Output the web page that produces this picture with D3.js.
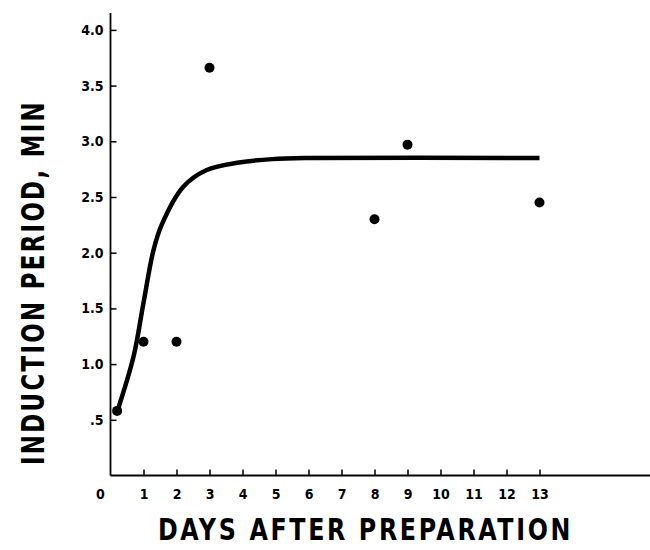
<!DOCTYPE html>
<html>
<head>
<meta charset="utf-8">
<script src="https://cdn.jsdelivr.net/npm/d3@7"></script>
<style>
  body { margin: 0; background: #fff; }
  text { font-family: "DejaVu Sans Condensed", "DejaVu Sans", sans-serif; font-weight: bold; fill: #000; }
</style>
</head>
<body>
<div id="chart"></div>
<script>
// measured points
const pointDays = [0.2, 1, 2, 3, 8, 9, 13];
const pointValues = [0.58, 1.2, 1.2, 3.66, 2.3, 2.97, 2.45];

// hand-drawn fitted curve
const curveDays = [0.2, 0.7, 1.0, 1.3, 1.55, 2.2, 2.9, 3.9, 4.9, 6, 13];
const curveValues = [0.57, 1.07, 1.55, 2.02, 2.25, 2.59, 2.74, 2.81, 2.84, 2.85, 2.85];

const xTicks = [1, 2, 3, 4, 5, 6, 7, 8, 9, 10, 11, 12, 13];
const yTicks = [0.5, 1.0, 1.5, 2.0, 2.5, 3.0, 3.5, 4.0];
const yTickLabels = ['.5', '1.0', '1.5', '2.0', '2.5', '3.0', '3.5', '4.0'];

const width = 650, height = 550;

const svg = d3.select('#chart').append('svg')
  .attr('width', width)
  .attr('height', height);

const x = d3.scaleLinear().domain([0, 13]).range([110.5, 539.5]);
const y = d3.scaleLinear().domain([0, 4]).range([475.5, 29.9]);

// y axis: ticks point inward (right)
const yAxis = d3.axisRight(y)
  .tickValues(yTicks)
  .tickSize(6)
  .tickFormat((d, i) => yTickLabels[i]);

const gy = svg.append('g')
  .attr('transform', `translate(${x(0)},0)`)
  .call(yAxis);
gy.select('.domain').remove();
gy.selectAll('line').attr('stroke', '#000').attr('stroke-width', 1.5);
gy.selectAll('text')
  .attr('x', -7)
  .attr('text-anchor', 'end')
  .style('font-size', '14px');

svg.append('line')
  .attr('x1', x(0)).attr('x2', x(0))
  .attr('y1', 13).attr('y2', y(0))
  .attr('stroke', '#000').attr('stroke-width', 1.8);

// x axis: ticks point inward (up)
const xAxis = d3.axisTop(x)
  .tickValues(xTicks)
  .tickSize(6)
  .tickFormat(d3.format('d'));

const gx = svg.append('g')
  .attr('transform', `translate(0,${y(0)})`)
  .call(xAxis);
gx.select('.domain').remove();
gx.selectAll('line').attr('stroke', '#000').attr('stroke-width', 1.5);
gx.selectAll('text')
  .attr('y', 23)
  .style('font-size', '14px');

gx.append('text')
  .attr('x', x(0) - 10)
  .attr('y', 23)
  .attr('text-anchor', 'middle')
  .style('font-size', '14px')
  .text('0');

svg.append('line')
  .attr('x1', x(0)).attr('x2', width)
  .attr('y1', y(0)).attr('y2', y(0))
  .attr('stroke', '#000').attr('stroke-width', 1.8);

// curve
const line = d3.line()
  .x(i => x(curveDays[i]))
  .y(i => y(curveValues[i]))
  .curve(d3.curveCatmullRom.alpha(0.5));

svg.append('path')
  .attr('d', line(d3.range(curveDays.length)))
  .attr('fill', 'none')
  .attr('stroke', '#000')
  .attr('stroke-width', 4.5);

// points
svg.append('g').selectAll('circle')
  .data(d3.range(pointDays.length)).enter()
  .append('circle')
    .attr('cx', i => x(pointDays[i]))
    .attr('cy', i => y(pointValues[i]))
    .attr('r', 5)
    .attr('fill', '#000');

// axis titles
svg.append('text')
  .attr('x', 158)
  .attr('y', 540)
  .attr('textLength', 415)
  .attr('lengthAdjust', 'spacingAndGlyphs')
  .style('font-size', '30px')
  .style('letter-spacing', '3px')
  .text('DAYS AFTER PREPARATION');

svg.append('text')
  .attr('transform', 'translate(44,465) rotate(-90)')
  .attr('textLength', 365)
  .attr('lengthAdjust', 'spacingAndGlyphs')
  .style('font-size', '32px')
  .style('letter-spacing', '3px')
  .text('INDUCTION PERIOD, MIN');
</script>
</body>
</html>
